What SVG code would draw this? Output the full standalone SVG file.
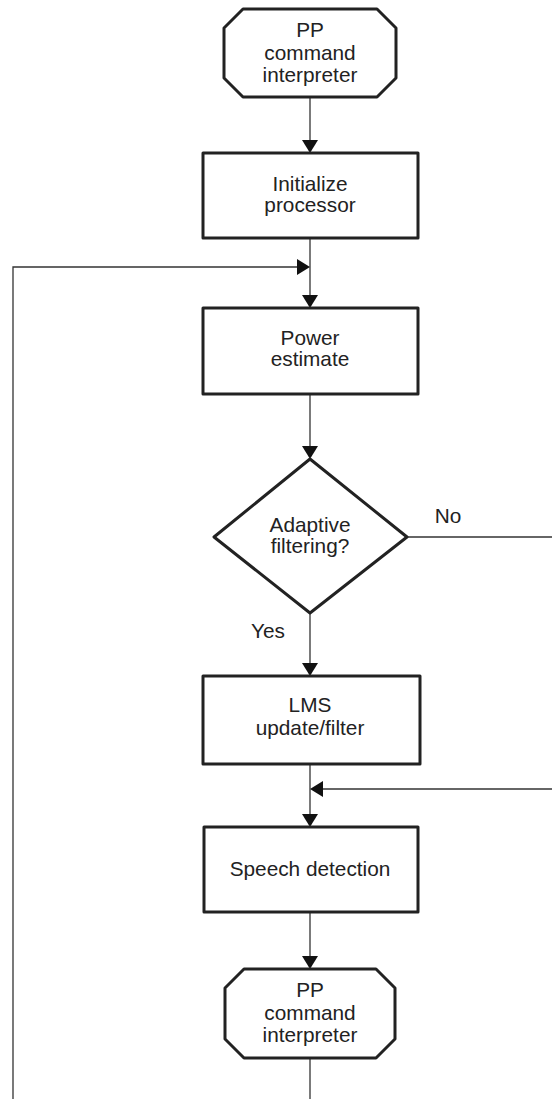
<svg xmlns="http://www.w3.org/2000/svg" width="552" height="1099" viewBox="0 0 552 1099">
<style>
.box{fill:#fff;stroke:#222;stroke-width:3;stroke-linejoin:round}
.t{font-family:"Liberation Sans",Arial,sans-serif;font-size:20.8px;fill:#222;text-anchor:middle}
.c{fill:none;stroke:#333;stroke-width:1.3}
.ah{fill:#111;stroke:none}
</style>
<defs>
<path id="ad" d="M-8,-13 L8,-13 L0,0 Z"/>
</defs>
<rect width="552" height="1099" fill="#fff"/>
<g id="connectors">
<line class="c" x1="310" y1="97" x2="310" y2="143"/>
<line class="c" x1="310" y1="238" x2="310" y2="298"/>
<polyline class="c" points="13,1099 13,267 300,267"/>
<line class="c" x1="310" y1="394" x2="310" y2="449"/>
<line class="c" x1="407" y1="537" x2="552" y2="537"/>
<line class="c" x1="310" y1="613" x2="310" y2="666"/>
<line class="c" x1="310" y1="764" x2="310" y2="817"/>
<line class="c" x1="552" y1="789" x2="320" y2="789"/>
<line class="c" x1="310" y1="912" x2="310" y2="959"/>
<line class="c" x1="310" y1="1058" x2="310" y2="1099"/>
<use href="#ad" class="ah" transform="translate(310,153)"/>
<use href="#ad" class="ah" transform="translate(310,267) rotate(-90)"/>
<use href="#ad" class="ah" transform="translate(310,308)"/>
<use href="#ad" class="ah" transform="translate(310,459)"/>
<use href="#ad" class="ah" transform="translate(310,676)"/>
<use href="#ad" class="ah" transform="translate(310,789) rotate(90)"/>
<use href="#ad" class="ah" transform="translate(310,827)"/>
<use href="#ad" class="ah" transform="translate(310,969)"/>
<text class="t" x="448" y="523">No</text>
<text class="t" x="268" y="638">Yes</text>
</g>
<g id="start">
<polygon class="box" points="243,9 377,9 396,28 396,78 377,97 243,97 224,78 224,28"/>
<text class="t" x="310" y="37">PP</text>
<text class="t" x="310" y="60">command</text>
<text class="t" x="310" y="82">interpreter</text>
</g>
<g id="init">
<rect class="box" x="203" y="153" width="215" height="85"/>
<text class="t" x="310" y="191">Initialize</text>
<text class="t" x="310" y="212">processor</text>
</g>
<g id="power">
<rect class="box" x="203" y="308" width="215" height="86"/>
<text class="t" x="310" y="345">Power</text>
<text class="t" x="310" y="366">estimate</text>
</g>
<g id="decision">
<polygon class="box" points="310,459 407,537 310,613 214,537"/>
<text class="t" x="310" y="532">Adaptive</text>
<text class="t" x="310" y="553">filtering?</text>
</g>
<g id="lms">
<rect class="box" x="203" y="676" width="217" height="88"/>
<text class="t" x="310" y="712">LMS</text>
<text class="t" x="310" y="735">update/filter</text>
</g>
<g id="speech">
<rect class="box" x="204" y="827" width="214" height="85"/>
<text class="t" x="310" y="876">Speech detection</text>
</g>
<g id="end">
<polygon class="box" points="244,969 376,969 395,988 395,1039 376,1058 244,1058 225,1039 225,988"/>
<text class="t" x="310" y="997">PP</text>
<text class="t" x="310" y="1020">command</text>
<text class="t" x="310" y="1042">interpreter</text>
</g>
</svg>
